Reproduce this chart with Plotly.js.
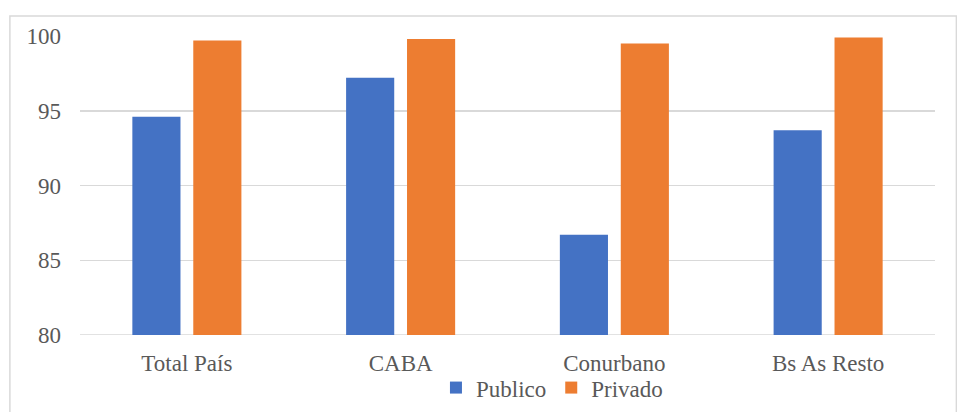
<!DOCTYPE html>
<html>
<head>
<meta charset="utf-8">
<script src="https://cdn.plot.ly/plotly-3.0.1.min.js"></script>
<style>
html,body{margin:0;padding:0;background:#fff;}
#chart{width:957px;height:412px;}
</style>
</head>
<body>
<div id="chart"></div>
<script>
const categories = ["Total País", "CABA", "Conurbano", "Bs As Resto"];
const publico = [94.6, 97.2, 86.7, 93.7];
const privado = [99.7, 99.8, 99.5, 99.9];
const yTicks = [80, 85, 90, 95, 100];

const font = {family: "Liberation Serif", size: 23, color: "#595959"};

const traces = [
  {type: "bar", name: "Publico", x: categories, y: publico, marker: {color: "#4472C4"}},
  {type: "bar", name: "Privado", x: categories, y: privado, marker: {color: "#ED7D31"}}
];

const layout = {
  width: 957, height: 412,
  margin: {l: 80, r: 22, t: 36, b: 77, autoexpand: false},
  paper_bgcolor: "#ffffff", plot_bgcolor: "#ffffff",
  font: font,
  barmode: "group",
  bargap: 0.43,
  bargroupgap: 0.21,
  showlegend: true,
  legend: {orientation: "h", x: 0.552, xanchor: "center", y: -0.176, yanchor: "middle",
           font: font, itemwidth: 30, traceorder: "normal", tracegroupgap: 0,
           bgcolor: "rgba(0,0,0,0)"},
  xaxis: {tickfont: font, showgrid: false, showline: false, ticks: "", zeroline: false,
          ticklabelstandoff: 12},
  yaxis: {range: [80, 100], tickvals: yTicks, tickfont: font, showgrid: true,
          gridcolor: "#d9d9d9", gridwidth: 1.5, zeroline: false, showline: false, ticks: "",
          ticklabelstandoff: 18},
  shapes: [
    {type: "rect", xref: "paper", yref: "paper", x0: -0.082, x1: 1.025, y0: -0.26, y1: 1.067,
     line: {color: "#d9d9d9", width: 1.5}, fillcolor: "rgba(0,0,0,0)", layer: "below"},
    {type: "line", xref: "paper", yref: "y", x0: 0, x1: 1, y0: 80, y1: 80,
     line: {color: "#d9d9d9", width: 1.5}, layer: "below"}
  ]
};

Plotly.newPlot("chart", traces, layout, {displayModeBar: false, staticPlot: true});
</script>
</body>
</html>
